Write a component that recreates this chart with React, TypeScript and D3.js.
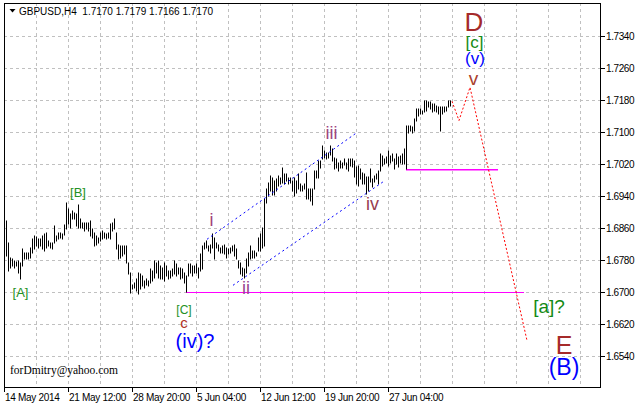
import React from "react";
import * as d3 from "d3";

// GBPUSD H4 bars, high / low, oldest first
const highs = [
  1.6878, 1.6823, 1.6787, 1.6783, 1.6778, 1.6777, 1.6778, 1.6774, 1.6808, 1.6799,
  1.6798, 1.6799, 1.6812, 1.6833, 1.6841, 1.6839, 1.6833, 1.6833, 1.6841, 1.6845,
  1.6849, 1.6828, 1.6824, 1.6824, 1.6866, 1.6841, 1.6849, 1.6848, 1.6845, 1.6868,
  1.6923, 1.6908, 1.6895, 1.6903, 1.6899, 1.6895, 1.6920, 1.6883, 1.6874, 1.6873,
  1.6874, 1.6874, 1.6878, 1.6858, 1.6849, 1.6841, 1.6837, 1.6849, 1.6853, 1.6849,
  1.6845, 1.6849, 1.6870, 1.6874, 1.6883, 1.6849, 1.6820, 1.6816, 1.6816, 1.6816,
  1.6816, 1.6774, 1.6749, 1.6720, 1.6724, 1.6733, 1.6749, 1.6745, 1.6741, 1.6728,
  1.6733, 1.6728, 1.6758, 1.6753, 1.6778, 1.6774, 1.6778, 1.6766, 1.6762, 1.6774,
  1.6766, 1.6753, 1.6753, 1.6758, 1.6778, 1.6770, 1.6762, 1.6762, 1.6758, 1.6749,
  1.6741, 1.6770, 1.6770, 1.6766, 1.6766, 1.6770, 1.6762, 1.6795, 1.6816, 1.6824,
  1.6828, 1.6816, 1.6820, 1.6845, 1.6837, 1.6824, 1.6820, 1.6812, 1.6816, 1.6820,
  1.6812, 1.6808, 1.6812, 1.6816, 1.6820, 1.6808, 1.6778, 1.6774, 1.6762, 1.6758,
  1.6783, 1.6799, 1.6816, 1.6803, 1.6803, 1.6799, 1.6837, 1.6845, 1.6862, 1.6933,
  1.6958, 1.6974, 1.6991, 1.6987, 1.6978, 1.6983, 1.6991, 1.6987, 1.7012, 1.6995,
  1.6995, 1.6987, 1.6987, 1.6978, 1.6987, 1.6978, 1.6995, 1.6970, 1.6966, 1.6970,
  1.6999, 1.6958, 1.6958, 1.6958, 1.7003, 1.7003, 1.7028, 1.7028, 1.7066, 1.7053,
  1.7049, 1.7049, 1.7066, 1.7058, 1.7037, 1.7033, 1.7024, 1.7028, 1.7024, 1.7033,
  1.7024, 1.7033, 1.7033, 1.7033, 1.7029, 1.7013, 1.7017, 1.7008, 1.7000, 1.6996,
  1.6988, 1.6988, 1.7008, 1.6983, 1.6992, 1.6996, 1.7004, 1.7046, 1.7042, 1.7033,
  1.7038, 1.7054, 1.7042, 1.7046, 1.7033, 1.7046, 1.7038, 1.7042, 1.7046, 1.7058,
  1.7117, 1.7117, 1.7117, 1.7113, 1.7133, 1.7158, 1.7158, 1.7158, 1.7154, 1.7179,
  1.7179, 1.7175, 1.7175, 1.7171, 1.7171, 1.7167, 1.7163, 1.7163, 1.7163, 1.7163,
  1.7163, 1.7179, 1.7179,
];
const lows = [
  1.6790, 1.6753, 1.6762, 1.6766, 1.6762, 1.6766, 1.6749, 1.6733, 1.6766, 1.6783,
  1.6783, 1.6784, 1.6787, 1.6799, 1.6808, 1.6816, 1.6812, 1.6816, 1.6808, 1.6803,
  1.6812, 1.6816, 1.6812, 1.6808, 1.6824, 1.6828, 1.6833, 1.6837, 1.6834, 1.6843,
  1.6858, 1.6870, 1.6862, 1.6883, 1.6883, 1.6866, 1.6862, 1.6862, 1.6862, 1.6853,
  1.6858, 1.6853, 1.6841, 1.6837, 1.6816, 1.6820, 1.6824, 1.6828, 1.6833, 1.6837,
  1.6834, 1.6837, 1.6833, 1.6853, 1.6858, 1.6808, 1.6783, 1.6787, 1.6791, 1.6795,
  1.6774, 1.6745, 1.6699, 1.6708, 1.6712, 1.6703, 1.6695, 1.6708, 1.6716, 1.6712,
  1.6720, 1.6716, 1.6724, 1.6728, 1.6737, 1.6749, 1.6737, 1.6733, 1.6733, 1.6728,
  1.6741, 1.6733, 1.6737, 1.6741, 1.6745, 1.6741, 1.6745, 1.6733, 1.6737, 1.6724,
  1.6701, 1.6741, 1.6749, 1.6741, 1.6749, 1.6749, 1.6737, 1.6753, 1.6758, 1.6808,
  1.6812, 1.6803, 1.6799, 1.6812, 1.6783, 1.6812, 1.6803, 1.6799, 1.6799, 1.6795,
  1.6787, 1.6795, 1.6799, 1.6803, 1.6791, 1.6783, 1.6762, 1.6745, 1.6741, 1.6737,
  1.6749, 1.6766, 1.6783, 1.6787, 1.6787, 1.6791, 1.6803, 1.6803, 1.6812, 1.6816,
  1.6924, 1.6941, 1.6953, 1.6945, 1.6945, 1.6953, 1.6966, 1.6970, 1.6974, 1.6970,
  1.6978, 1.6970, 1.6974, 1.6953, 1.6941, 1.6949, 1.6958, 1.6953, 1.6953, 1.6958,
  1.6933, 1.6933, 1.6928, 1.6920, 1.6958, 1.6987, 1.6987, 1.7012, 1.7033, 1.7037,
  1.7033, 1.7037, 1.7045, 1.7028, 1.7008, 1.7012, 1.7003, 1.7012, 1.7012, 1.7020,
  1.7008, 1.7003, 1.7017, 1.7013, 1.6988, 1.6971, 1.6967, 1.6983, 1.6971, 1.6971,
  1.6946, 1.6954, 1.6975, 1.6963, 1.6975, 1.6983, 1.6971, 1.7004, 1.7017, 1.7021,
  1.7025, 1.7017, 1.7025, 1.7029, 1.7008, 1.7021, 1.7013, 1.7025, 1.7021, 1.7021,
  1.7008, 1.7100, 1.7104, 1.7100, 1.7104, 1.7129, 1.7142, 1.7146, 1.7146, 1.7150,
  1.7154, 1.7163, 1.7158, 1.7150, 1.7154, 1.7150, 1.7146, 1.7104, 1.7146, 1.7150,
  1.7154, 1.7163, 1.7166,
];

const priceTicks = [1.734, 1.726, 1.718, 1.71, 1.702, 1.694, 1.686, 1.678, 1.67, 1.662, 1.654];
const timeLabels = ["14 May 2014", "21 May 12:00", "28 May 20:00", "5 Jun 04:00", "12 Jun 12:00", "19 Jun 20:00", "27 Jun 04:00"];
const timeLabelBars = [0, 32, 64, 96, 128, 160, 192];
const lastQuote = [1.717, 1.7179, 1.7166, 1.717];

// horizontal levels drawn in magenta
const levelFrom = [91, 201];
const levelTo = [260, 247];
const levelPrice = [1.67, 1.7007];
const levelWidth = [1, 1.6];

// trend channel (blue dotted)
const upperBars = [101.5, 176.5];
const upperPrices = [1.6833, 1.71];
const lowerBars = [114.5, 190.5];
const lowerPrices = [1.6718, 1.698];

// forecast path (red dotted)
const forecastBars = [224, 227.5, 233, 261.5];
const forecastPrices = [1.7178, 1.713, 1.7213, 1.658];

// wave marks
const waveText = ["[A]", "[B]", "[C]", "c", "(iv)?", "i", "ii", "iii", "iv", "v", "D", "[c]", "(v)", "[a]?", "E", "(B)"];
const waveBar = [8.25, 37, 90, 90, 95.5, 103.75, 121, 163.75, 184.25, 234.75, 235, 235.25, 235.5, 272.5, 280, 280];
const wavePrice = [1.6701, 1.6951, 1.6657, 1.6624, 1.6579, 1.6881, 1.6711, 1.7099, 1.6921, 1.7236, 1.7377, 1.7324, 1.7286, 1.6666, 1.6569, 1.6514];

const waveStyle: Record<string, { size: number; color: string }> = {
  "[A]": { size: 13, color: "#249124" },
  "[B]": { size: 13, color: "#249124" },
  "[C]": { size: 12, color: "#249124" },
  c: { size: 15, color: "#b0301e" },
  "(iv)?": { size: 20, color: "#0000ff" },
  i: { size: 18, color: "#a2427a" },
  ii: { size: 18, color: "#9a4590" },
  iii: { size: 18, color: "#9e4580" },
  iv: { size: 18, color: "#983c50" },
  v: { size: 19, color: "#a8402e" },
  D: { size: 26, color: "#a52a2a" },
  "[c]": { size: 17, color: "#138a13" },
  "(v)": { size: 17, color: "#0000ff" },
  "[a]?": { size: 19, color: "#138a13" },
  E: { size: 25, color: "#a52a2a" },
  "(B)": { size: 23, color: "#0000ff" },
};

const W = 636;
const H = 406;
const left = 4;
const right = 600;
const top = 3;
const bottom = 387;
const font = "'Liberation Sans', Arial, sans-serif";

export default function App() {
  const x = d3.scaleLinear().domain([0, 32]).range([left, left + 64]);
  const y = d3.scaleLinear().domain([1.654, 1.734]).range([356.5, 36.5]);

  const vGrid = d3.range(16, 300, 16).filter((n) => x(n) < right);
  const line = d3
    .line<[number, number]>()
    .x((d) => x(d[0]))
    .y((d) => y(d[1]));
  const pts = (bars: number[], prices: number[]) =>
    line(bars.map((b, i) => [b, prices[i]] as [number, number])) || "";

  return (
    <svg
      width={W}
      height={H}
      style={{ position: "absolute", left: 0, top: 0, background: "#fff" }}
      fontFamily={font}
    >
      <rect x={0} y={0} width={W} height={H} fill="#fff" />

      {/* grid */}
      <g stroke="#c0c0c0" strokeDasharray="3,3" strokeWidth={1}>
        {priceTicks.map((p) => (
          <line key={p} x1={left} x2={right} y1={y(p)} y2={y(p)} />
        ))}
        {vGrid.map((n) => (
          <line key={n} x1={x(n) + 0.5} x2={x(n) + 0.5} y1={top} y2={bottom} />
        ))}
      </g>

      {/* levels */}
      <g stroke="#ff00ff">
        {levelPrice.map((p, i) => (
          <line key={i} x1={x(levelFrom[i])} x2={x(levelTo[i])} y1={y(p)} y2={y(p)} strokeWidth={levelWidth[i]} />
        ))}
      </g>

      {/* bars */}
      <g stroke="#000" strokeWidth={1}>
        {highs.map((h, i) => {
          const xb = x(i + 1) + 0.5;
          const y1 = Math.round(y(h)) - 0.5;
          const y2 = Math.max(Math.round(y(lows[i])) + 0.5, y1 + 1);
          return <line key={i} x1={xb} x2={xb} y1={y1} y2={y2} />;
        })}
      </g>

      {/* channel */}
      <g stroke="#0000ff" strokeWidth={1} strokeDasharray="2,3" fill="none">
        <path d={pts(upperBars, upperPrices)} />
        <path d={pts(lowerBars, lowerPrices)} />
      </g>

      {/* forecast */}
      <path d={pts(forecastBars, forecastPrices)} fill="none" stroke="#ff0000" strokeWidth={1} strokeDasharray="2,2" />

      {/* wave labels */}
      {waveText.map((t, i) => (
        <text
          key={t}
          x={x(waveBar[i])}
          y={y(wavePrice[i])}
          textAnchor="middle"
          dominantBaseline="central"
          fontSize={waveStyle[t].size}
          fill={waveStyle[t].color}
        >
          {t}
        </text>
      ))}

      <text x={10} y={374} fontFamily="'Liberation Serif', 'Times New Roman', serif" fontSize={11.5} fill="#000">
        forDmitry@yahoo.com
      </text>

      {/* frame */}
      <rect x={left + 0.5} y={top + 0.5} width={right - left} height={bottom - top} fill="none" stroke="#000" />

      {/* header */}
      <path d="M9.5,9 L15.5,9 L12.5,12.5 Z" fill="#000" />
      <text x={19} y={14.5} fontSize={10} fill="#000" style={{ whiteSpace: "pre" }}>
        {"GBPUSD,H4  " + lastQuote.map((v) => v.toFixed(4)).join(" ")}
      </text>

      {/* price axis */}
      <g fontSize={10} letterSpacing={-0.4} fill="#000">
        {priceTicks.map((p) => (
          <g key={p}>
            <line x1={right + 1} x2={right + 5} y1={y(p)} y2={y(p)} stroke="#000" />
            <text x={right + 6} y={y(p) + 3.6}>
              {p.toFixed(4)}
            </text>
          </g>
        ))}
      </g>

      {/* time axis */}
      <g fontSize={10} letterSpacing={-0.3} fill="#000">
        {timeLabels.map((t, i) => (
          <g key={t}>
            <line
              x1={x(timeLabelBars[i]) + 0.5}
              x2={x(timeLabelBars[i]) + 0.5}
              y1={bottom}
              y2={bottom + 5}
              stroke="#000"
            />
            <text x={x(timeLabelBars[i]) + 1} y={401}>
              {t}
            </text>
          </g>
        ))}
      </g>
    </svg>
  );
}
